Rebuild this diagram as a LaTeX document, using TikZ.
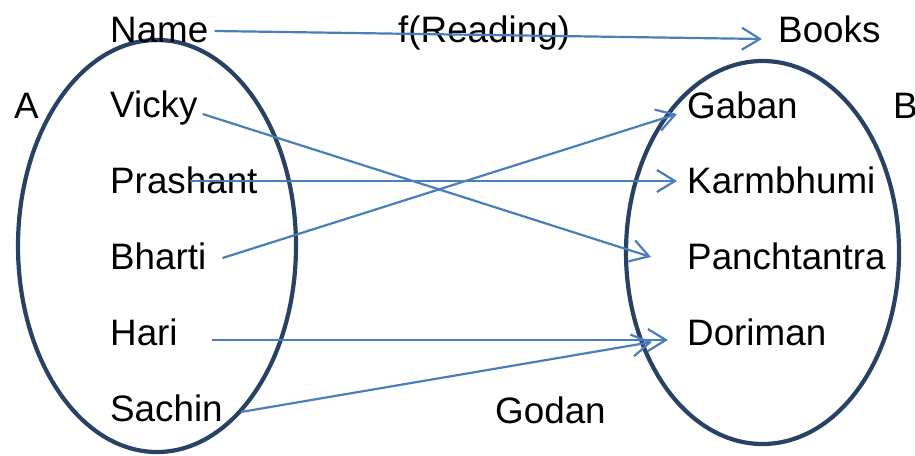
\documentclass[tikz,border=0pt]{standalone}
\usepackage{fontspec}
\setmainfont{Liberation Sans}
\usetikzlibrary{arrows.meta}
\definecolor{setline}{RGB}{40,66,102}
\definecolor{mapline}{RGB}{74,126,187}
\begin{document}
\begin{tikzpicture}[x=1pt,y=-1pt,
  lbl/.style={anchor=base west, inner sep=0pt, font=\fontsize{36.8}{44}\selectfont},
  setoval/.style={draw=setline, line width=4.2pt},
  maparrow/.style={draw=mapline, line width=2.2pt,
    -{Straight Barb[length=18pt,width=22pt,line width=2.2pt]}}]
\useasboundingbox (0,0) rectangle (915,455);

% the two sets
\draw[setoval] (157,246) ellipse [x radius=139pt, y radius=206pt];
\draw[setoval] (762.5,252.5) ellipse [x radius=136.5pt, y radius=191.5pt];

% domain A
\node[lbl] (seta)     at (14,118)  {A};
\node[lbl] (name)     at (110,42)  {Name};
\node[lbl] (vicky)    at (110,117) {Vicky};
\node[lbl] (prashant) at (110,193) {Prashant};
\node[lbl] (bharti)   at (110,269) {Bharti};
\node[lbl] (hari)     at (110,345) {Hari};
\node[lbl] (sachin)   at (110,421) {Sachin};

% relation label and unmatched book
\node[lbl] (freading) at (398,42)  {f(Reading)};
\node[lbl] (godan)    at (495,423) {Godan};

% codomain B
\node[lbl] (books)    at (778,42)  {Books};
\node[lbl] (setb)     at (893,118) {B};
\node[lbl] (gaban)    at (687,118) {Gaban};
\node[lbl] (karm)     at (687,193) {Karmbhumi};
\node[lbl] (panch)    at (687,269) {Panchtantra};
\node[lbl] (doriman)  at (687,345) {Doriman};

% mapping arrows
\draw[maparrow] ([shift={(6pt,11pt)}]name.base east) -- ([shift={(-16pt,3pt)}]books.base west);
\draw[maparrow] ([shift={(5pt,3pt)}]vicky.base east) -- ([shift={(-36pt,12pt)}]panch.base west);
\draw[maparrow] ([shift={(80pt,12pt)}]prashant.base west) -- ([shift={(-10pt,12pt)}]karm.base west);
\draw[maparrow] ([shift={(16pt,11pt)}]bharti.base east) -- ([shift={(-10pt,4pt)}]gaban.base west);
\draw[maparrow] ([shift={(34pt,5pt)}]hari.base east) -- ([shift={(-19pt,5pt)}]doriman.base west);
\draw[maparrow] ([shift={(18pt,9pt)}]sachin.base east) -- ([shift={(-35pt,3pt)}]doriman.base west);
\end{tikzpicture}
\end{document}
